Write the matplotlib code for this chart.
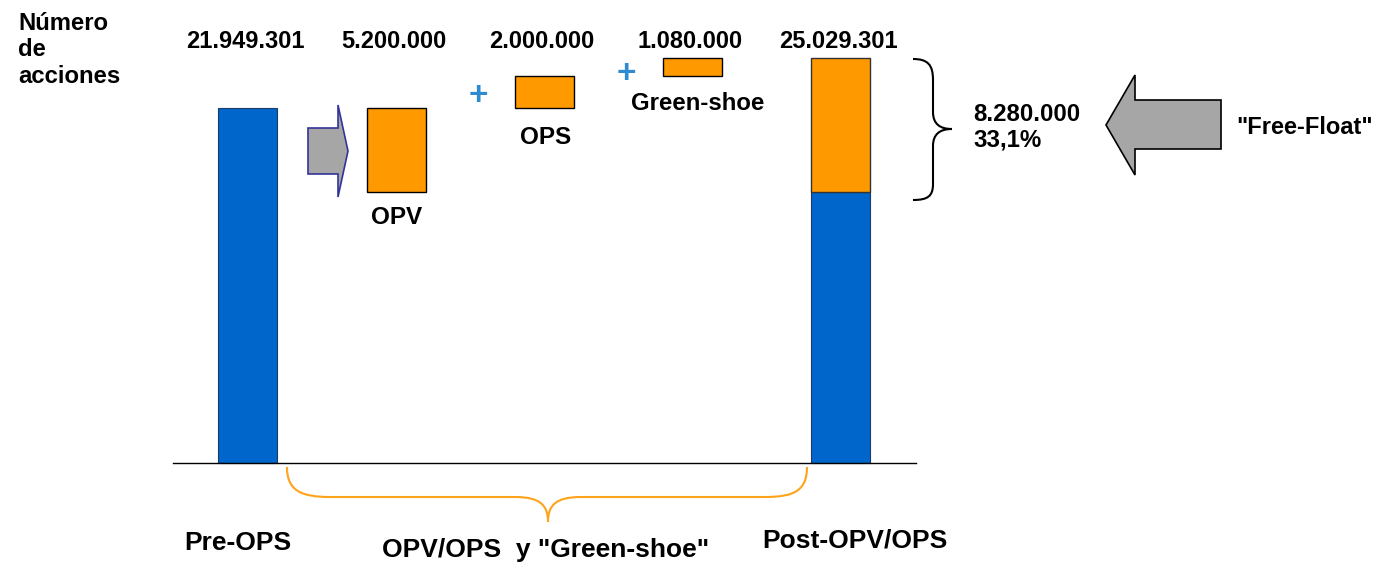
import matplotlib.pyplot as plt
from matplotlib.path import Path
from matplotlib.patches import PathPatch, Polygon

# data
categories = ['Pre-OPS', 'OPV', 'OPS', 'Green-shoe', 'Post-OPV/OPS']
values = [21949301, 5200000, 2000000, 1080000, 25029301]
value_labels = ['21.949.301', '5.200.000', '2.000.000', '1.080.000', '25.029.301']
free_float = 8280000
free_float_pct = '33,1%'

BLUE = '#0066CC'
ORANGE = '#FF9900'
GREY = '#A6A6A6'
FONT = 'Liberation Sans'

W, H = 1384, 565
fig = plt.figure(figsize=(W / 100, H / 100), dpi=100)

# main axes: x in pixels, y in number of shares
ax = fig.add_axes([0, 0, 1, 1])
px_per_share = 355 / values[0]
ax.set_xlim(0, W)
ax.set_ylim(-(H - 463) / px_per_share, 463 / px_per_share)
ax.axis('off')

# overlay axes in pixel coordinates for shapes and text
ov = fig.add_axes([0, 0, 1, 1], facecolor='none')
ov.set_xlim(0, W)
ov.set_ylim(H, 0)
ov.axis('off')

xs = [247.5, 396, 544, 692, 840]
bw = 59

pre, opv, ops, gs, post = values
# waterfall bars
ax.bar(xs[0], pre, width=bw, color=BLUE, edgecolor='#1a3a6a', linewidth=0.8)
ax.bar(xs[1], opv, bottom=pre - opv, width=bw, color=ORANGE, edgecolor='black', linewidth=1)
ax.bar(xs[2], ops, bottom=pre, width=bw, color=ORANGE, edgecolor='black', linewidth=1)
ax.bar(xs[3], gs, bottom=pre + ops, width=bw, color=ORANGE, edgecolor='black', linewidth=1)
ax.bar(xs[4], post - free_float, width=bw, color=BLUE, edgecolor='#1a3a6a', linewidth=0.8)
ax.bar(xs[4], free_float, bottom=post - free_float, width=bw, color=ORANGE, edgecolor='#333333', linewidth=1)

# baseline
ax.plot([173, 916], [0, 0], color='black', linewidth=1)

txt = dict(fontfamily=FONT, fontweight='bold', color='black')

# value labels on top
for x, lab in zip(xs, value_labels):
    ov.text(x - 2, 41, lab, ha='center', va='center', fontsize=17, **txt)

ov.text(18, 50, 'Número\nde\nacciones', ha='left', va='center', fontsize=17.2,
        linespacing=1.17, **txt)

# segment labels
ov.text(397, 218, 'OPV', ha='center', va='center', fontsize=17.5, **txt)
ov.text(546, 138, 'OPS', ha='center', va='center', fontsize=17.5, **txt)
ov.text(698, 104, 'Green-shoe', ha='center', va='center', fontsize=17.3, **txt)

# plus signs
for px, py in [(478, 97), (626, 75)]:
    ov.text(px, py, '+', ha='center', va='center', fontsize=24, fontweight='bold',
            color='#2E8BD0', fontfamily=FONT)

# small grey arrow
small_arrow = [(308, 128), (338, 128), (338, 105), (348, 151), (338, 197), (338, 174), (308, 174)]
ov.add_patch(Polygon(small_arrow, closed=True, facecolor=GREY, edgecolor='#333399', linewidth=1.2))

# big grey arrow (free float)
big_arrow = [(1221, 100), (1135, 100), (1135, 75), (1106, 125), (1135, 175), (1135, 149), (1221, 149)]
ov.add_patch(Polygon(big_arrow, closed=True, facecolor=GREY, edgecolor='black', linewidth=1.2))

# right curly brace
M, C, L = Path.MOVETO, Path.CURVE4, Path.LINETO
rb_verts = [(913, 59), (928, 59), (933, 65), (933, 80), (933, 112),
            (933, 124), (940, 129), (952, 129),
            (940, 129), (933, 134), (933, 146), (933, 184),
            (933, 196), (928, 200), (913, 200)]
rb_codes = [M, C, C, C, L, C, C, C, C, C, C, L, C, C, C]
ov.add_patch(PathPatch(Path(rb_verts, rb_codes), fill=False, edgecolor='black', linewidth=1.5))

ov.text(973, 127, '8.280.000\n' + free_float_pct, ha='left', va='center', fontsize=17.3,
        linespacing=1.15, **txt)
ov.text(1236, 128, '"Free-Float"', ha='left', va='center', fontsize=17, **txt)

# bottom orange brace
bb_verts = [(287, 467), (287, 490), (300, 497), (330, 497), (515, 497),
            (540, 497), (548, 505), (548, 522),
            (548, 505), (556, 497), (581, 497), (765, 497),
            (795, 497), (807, 490), (807, 467)]
ov.add_patch(PathPatch(Path(bb_verts, rb_codes), fill=False, edgecolor='#FFA31A', linewidth=1.5))

# category labels at bottom
ov.text(238, 543, categories[0], ha='center', va='center', fontsize=19, **txt)
ov.text(546, 550, 'OPV/OPS  y "Green-shoe"', ha='center', va='center', fontsize=19, **txt)
ov.text(855, 540, categories[4], ha='center', va='center', fontsize=19, **txt)

fig.savefig('out.png', dpi=100)
